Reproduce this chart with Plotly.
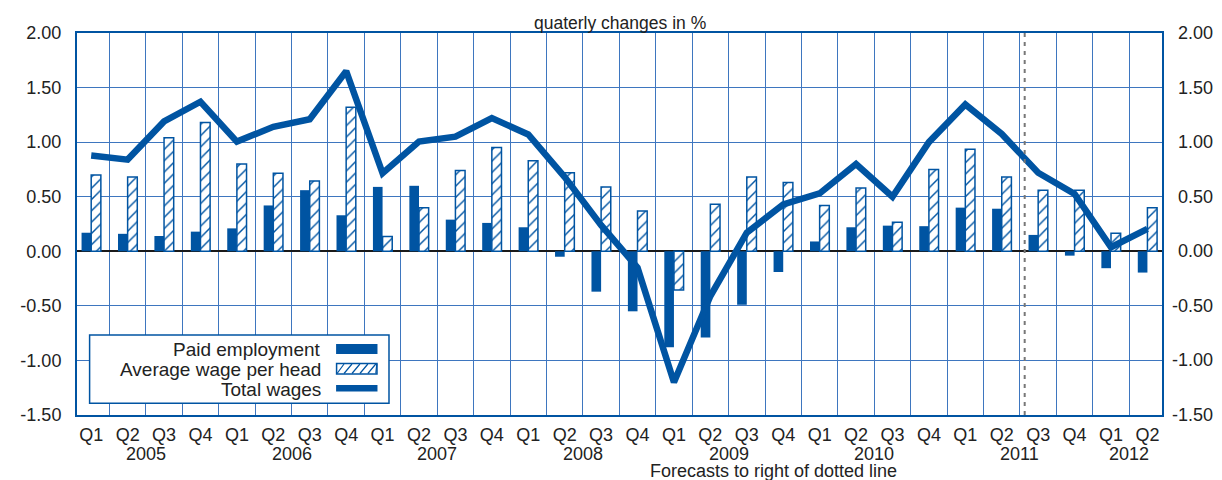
import plotly.graph_objects as go

# ---------------- data ----------------
quarters = ["Q1", "Q2", "Q3", "Q4"] * 7 + ["Q1", "Q2"]
years = [2005]*4 + [2006]*4 + [2007]*4 + [2008]*4 + [2009]*4 + [2010]*4 + [2011]*4 + [2012]*2

paid_employment = [0.17, 0.16, 0.14, 0.18, 0.21, 0.42, 0.56, 0.33,
                   0.59, 0.60, 0.29, 0.26, 0.22, -0.05, -0.37, -0.55,
                   -0.88, -0.79, -0.49, -0.19, 0.09, 0.22, 0.235, 0.23,
                   0.40, 0.39, 0.15, -0.04, -0.155, -0.195]
avg_wage = [0.70, 0.68, 1.04, 1.18, 0.80, 0.715, 0.645, 1.32,
            0.135, 0.40, 0.74, 0.95, 0.83, 0.72, 0.59, 0.37,
            -0.354, 0.43, 0.68, 0.63, 0.42, 0.58, 0.266, 0.75,
            0.935, 0.68, 0.56, 0.56, 0.165, 0.40]
total_wages = [0.877, 0.84, 1.19, 1.37, 1.005, 1.14, 1.21, 1.65,
               0.715, 1.005, 1.05, 1.22, 1.07, 0.68, 0.24, -0.15,
               -1.20, -0.41, 0.17, 0.43, 0.53, 0.80, 0.50, 1.00,
               1.345, 1.075, 0.72, 0.525, 0.037, 0.205]

y_ticks = [-1.5, -1.0, -0.5, 0.0, 0.5, 1.0, 1.5, 2.0]
y_ticktext = ["%.2f" % v for v in y_ticks]
forecast_start = 25.63   # dotted line between 2011 Q2 and Q3

# ---------------- style ----------------
BLUE = "#0054a2"
GRID = "#3e76bf"
FONT = "Liberation Sans, Arial, sans-serif"
OFF = 8                      # default page body margin
W, H = 1222 - OFF, 480 - OFF
ML, MR, MT, MB = 69 - OFF, 60, 33 - OFF, 65
PW, PH = W - ML - MR, H - MT - MB
PLOT_L, PLOT_B = 69, 415     # screen coordinates of plot left / bottom

def px_x(px):
    return (px - PLOT_L) / PW

def px_y(py):
    return (PLOT_B - py) / PH

x = list(range(len(quarters)))

fig = go.Figure()
fig.add_trace(go.Bar(x=x, y=paid_employment, name="Paid employment",
                     marker=dict(color=BLUE, line=dict(width=0))))
fig.add_trace(go.Bar(x=x, y=avg_wage, name="Average wage per head",
                     marker=dict(color="white", line=dict(color=BLUE, width=1.5),
                                 pattern=dict(shape="/", fgcolor=BLUE, bgcolor="white",
                                              size=8, solidity=0.18, fillmode="replace"))))
fig.add_trace(go.Scatter(x=x, y=total_wages, name="Total wages", mode="lines",
                         line=dict(color=BLUE, width=6.5)))

annotations = []
shapes = []

# year labels
uniq_years = []
for yv in years:
    if yv not in uniq_years:
        uniq_years.append(yv)
for yv in uniq_years:
    idx = [i for i, v in enumerate(years) if v == yv]
    annotations.append(dict(x=sum(idx) / len(idx), y=px_y(454), xref="x", yref="paper",
                            text=str(yv), showarrow=False, yanchor="middle",
                            font=dict(size=18, color="#222", family=FONT)))

# right-side y labels
for v, t in zip(y_ticks, y_ticktext):
    annotations.append(dict(x=px_x(1215), y=v, xref="paper", yref="y", text=t,
                            showarrow=False, xanchor="right", yanchor="middle",
                            font=dict(size=18, color="#222", family=FONT)))

# title
annotations.append(dict(x=0.5, y=1, xref="paper", yref="paper", text="quaterly changes in %",
                        showarrow=False, yanchor="bottom", yshift=-2,
                        font=dict(size=17.5, color="#222", family=FONT)))
# forecast note
annotations.append(dict(x=px_x(897), y=px_y(459), xref="paper", yref="paper",
                        text="Forecasts to right of dotted line", showarrow=False,
                        yanchor="top", font=dict(size=18, color="#222", family=FONT)))

# dotted forecast line
shapes.append(dict(type="line", xref="x", yref="paper", x0=forecast_start, x1=forecast_start,
                   y0=0, y1=1, line=dict(color="#777", width=2, dash="4px,5px"), layer="above"))

# ---------- manual legend (text left, key right) ----------
shapes.append(dict(type="rect", xref="paper", yref="paper",
                   x0=px_x(81.7), x1=px_x(383.3), y0=px_y(403.3), y1=px_y(335),
                   fillcolor="white", line=dict(color=BLUE, width=1.5), layer="above"))
legend_names = ["Paid employment", "Average wage per head", "Total wages"]
legend_y = [349, 369, 389]
for name, ly in zip(legend_names, legend_y):
    annotations.append(dict(x=px_x(317), y=px_y(ly), xref="paper", yref="paper", text=name,
                            showarrow=False, xanchor="right", yanchor="middle",
                            font=dict(size=19, color="#222", family=FONT)))
# solid key
shapes.append(dict(type="rect", xref="paper", yref="paper",
                   x0=px_x(330), x1=px_x(371.7), y0=px_y(354), y1=px_y(344),
                   fillcolor=BLUE, line=dict(width=0), layer="above"))
# hatched key
shapes.append(dict(type="rect", xref="paper", yref="paper",
                   x0=px_x(330.5), x1=px_x(371.2), y0=px_y(374), y1=px_y(363.5),
                   fillcolor="white", line=dict(color=BLUE, width=1.5), layer="above"))
path = ""
for k in range(6):
    xa = 330 + k * 8
    xb = xa + 8
    xa_c, xb_c = max(xa, 331), min(xb, 371)
    path += "M %f %f L %f %f " % (px_x(xa_c), px_y(373.5), px_x(xb_c), px_y(364))
shapes.append(dict(type="path", xref="paper", yref="paper", path=path,
                   line=dict(color=BLUE, width=1.2), layer="above"))
# line key
shapes.append(dict(type="rect", xref="paper", yref="paper",
                   x0=px_x(330), x1=px_x(371.7), y0=px_y(391.5), y1=px_y(385),
                   fillcolor=BLUE, line=dict(width=0), layer="above"))

fig.update_layout(
    width=W, height=H,
    margin=dict(l=ML, r=MR, t=MT, b=MB),
    paper_bgcolor="white", plot_bgcolor="white",
    barmode="group", bargap=0.47, bargroupgap=0,
    showlegend=False,
    annotations=annotations, shapes=shapes,
    font=dict(family=FONT, size=18, color="#222"),
)
fig.update_xaxes(
    range=[-0.39, 29.40], tickmode="array", tickvals=x, ticktext=quarters,
    showgrid=False, ticks="", ticklabelstandoff=2,
    tickfont=dict(size=18, color="#222", family=FONT),
    showline=True, mirror=True, linecolor=BLUE, linewidth=2,
    minor=dict(tickmode="array", tickvals=[i + 0.5 for i in range(len(x) - 1)],
               showgrid=True, gridcolor=GRID, gridwidth=1, ticks=""),
    zeroline=False,
)
fig.update_yaxes(
    range=[-1.5, 2.0], tickmode="array", tickvals=y_ticks, ticktext=y_ticktext,
    showgrid=True, gridcolor=GRID, gridwidth=1.2, ticks="", ticklabelstandoff=10,
    tickfont=dict(size=18, color="#222", family=FONT),
    showline=True, mirror=True, linecolor=BLUE, linewidth=2,
    zeroline=True, zerolinecolor="#1a1a1a", zerolinewidth=2.2,
)

fig.write_html("out.html")
